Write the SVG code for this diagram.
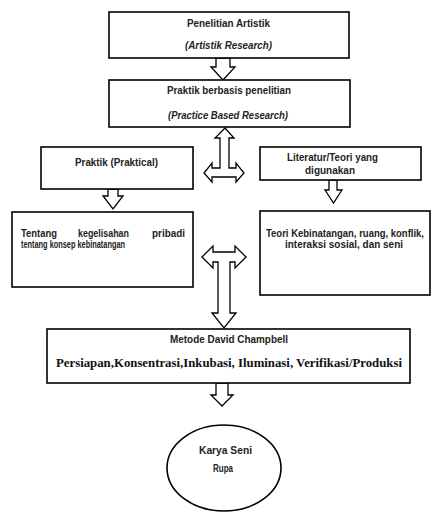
<svg xmlns="http://www.w3.org/2000/svg" width="432" height="517" viewBox="0 0 432 517">
<style>
.box{fill:#fff;stroke:#000;stroke-width:1.6}
.arr{fill:#fff;stroke:#000;stroke-width:1.3;stroke-linejoin:miter}
.t{font-family:"Liberation Sans",Arial,sans-serif;font-weight:bold;font-size:11px;fill:#222}
.i{font-style:italic}
.s{font-family:"Liberation Serif","Times New Roman",serif;font-weight:bold;font-size:12.5px;fill:#111}
</style>
<rect width="432" height="517" fill="#fff"/>
<g id="connectors">
<path class="arr" d="M216,58 H230 V67 H235 L223,80 L211,67 H216 Z"/>
<path class="arr" d="M225,128 L234,138 H229 V168 H236 V163 L244,173 L236,182 V177 H212 V182 L204,173 L212,163 V168 H220 V138 H215 Z"/>
<path class="arr" d="M108,189 H118 V196 H123 L113,209 L103,196 H108 Z"/>
<path class="arr" d="M329,180 H337 V190 H342 L333.5,203 L325,190 H329 Z"/>
<path class="arr" d="M202,257 L213,246 V252 H235 V246 L246,257 L235,268 V262 H230 V313 H236 L224,328 L212,313 H218 V262 H213 V268 Z"/>
<path class="arr" d="M216,383 H228 V395 H233 L222,406 L211,395 H216 Z"/>
</g>
<g id="n1">
<rect class="box" x="109" y="12" width="240" height="46"/>
<text class="t" x="228.5" y="27" text-anchor="middle" textLength="83" lengthAdjust="spacingAndGlyphs">Penelitian Artistik</text>
<text class="t i" x="228.5" y="49" text-anchor="middle" textLength="87" lengthAdjust="spacingAndGlyphs">(Artistik Research)</text>
</g>
<g id="n2">
<rect class="box" x="109" y="80" width="241" height="47"/>
<text class="t" x="229" y="94" text-anchor="middle" textLength="124" lengthAdjust="spacingAndGlyphs">Praktik berbasis penelitian</text>
<text class="t i" x="228" y="119" text-anchor="middle" textLength="120" lengthAdjust="spacingAndGlyphs">(Practice Based Research)</text>
</g>
<g id="n3">
<rect class="box" x="41" y="147" width="152" height="42"/>
<text class="t" x="116.5" y="166" text-anchor="middle" textLength="83" lengthAdjust="spacingAndGlyphs">Praktik (Praktical)</text>
</g>
<g id="n4">
<rect class="box" x="260" y="147" width="161" height="33"/>
<text class="t" x="332.5" y="161" text-anchor="middle" textLength="91" lengthAdjust="spacingAndGlyphs">Literatur/Teori yang</text>
<text class="t" x="330" y="174" text-anchor="middle" textLength="50" lengthAdjust="spacingAndGlyphs">digunakan</text>
</g>
<g id="n5">
<rect class="box" x="12" y="212" width="181" height="75"/>
<text class="t" x="21" y="237" textLength="36" lengthAdjust="spacingAndGlyphs">Tentang</text>
<text class="t" x="78" y="237" textLength="51" lengthAdjust="spacingAndGlyphs">kegelisahan</text>
<text class="t" x="185" y="237" text-anchor="end" textLength="33" lengthAdjust="spacingAndGlyphs">pribadi</text>
<text class="t" x="21" y="248" textLength="104" lengthAdjust="spacingAndGlyphs">tentang konsep kebinatangan</text>
</g>
<g id="n6">
<rect class="box" x="260" y="211" width="170" height="84"/>
<text class="t" x="345" y="237" text-anchor="middle" font-size="9.5" textLength="158" lengthAdjust="spacingAndGlyphs">Teori Kebinatangan, ruang, konflik,</text>
<text class="t" x="344" y="248" text-anchor="middle" textLength="118" lengthAdjust="spacingAndGlyphs">interaksi sosial, dan seni</text>
</g>
<g id="n7">
<rect class="box" x="47" y="329" width="363" height="54"/>
<text class="t" x="229" y="343" text-anchor="middle" textLength="118" lengthAdjust="spacingAndGlyphs">Metode David Champbell</text>
<text class="s" x="56" y="367" textLength="346" lengthAdjust="spacingAndGlyphs">Persiapan,Konsentrasi,Inkubasi, Iluminasi, Verifikasi/Produksi</text>
</g>
<g id="n8">
<ellipse class="box" cx="224" cy="468" rx="57" ry="43"/>
<text class="t" x="225.5" y="454" text-anchor="middle" textLength="53" lengthAdjust="spacingAndGlyphs">Karya Seni</text>
<text class="t" x="223" y="472" text-anchor="middle" textLength="20" lengthAdjust="spacingAndGlyphs">Rupa</text>
</g>
</svg>
